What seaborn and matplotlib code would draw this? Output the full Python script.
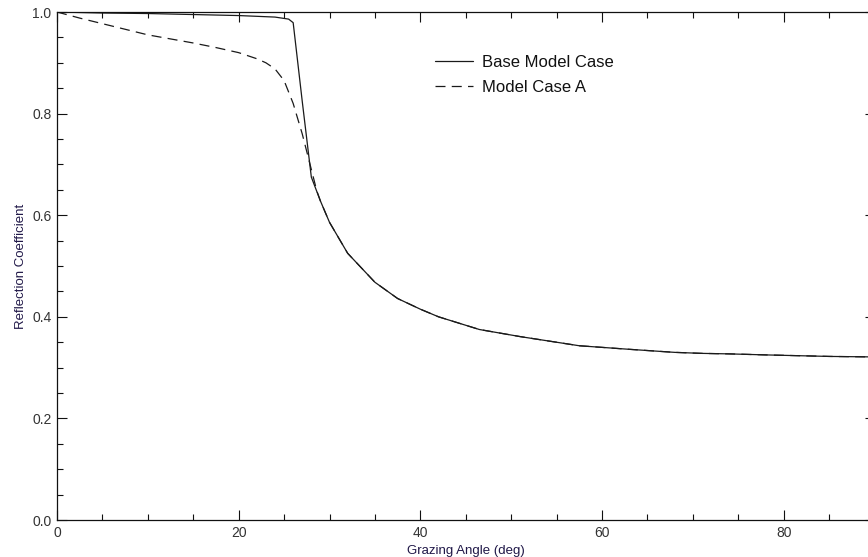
import matplotlib
matplotlib.use("Agg")
import matplotlib.pyplot as plt
import seaborn as sns
import pandas as pd

# Data
angle_base = [0, 5, 10, 15, 20, 24, 25.5, 26, 27, 28, 29, 30, 32, 35, 37.5, 40, 42,
              46.5, 51, 57.5, 63, 68, 71, 74, 78, 85, 90]
refl_base = [1.0, 0.998, 0.997, 0.995, 0.993, 0.99, 0.986, 0.979, 0.824, 0.675, 0.628,
             0.586, 0.525, 0.468, 0.436, 0.415, 0.400, 0.375, 0.361, 0.343, 0.336,
             0.330, 0.328, 0.327, 0.325, 0.322, 0.321]

angle_a = [0, 2.5, 5, 7.5, 10, 12.5, 15, 17.5, 20, 22, 23, 24, 25, 26, 27, 28, 28.6,
           29, 30, 32, 35, 37.5, 40, 42, 46.5, 51, 57.5, 63, 68, 71, 74, 78, 85, 90]
refl_a = [1.0, 0.988, 0.977, 0.966, 0.955, 0.947, 0.939, 0.93, 0.92, 0.908, 0.9, 0.888,
          0.865, 0.82, 0.76, 0.69, 0.648, 0.628, 0.586, 0.525, 0.468, 0.436, 0.415,
          0.400, 0.375, 0.361, 0.343, 0.336, 0.330, 0.328, 0.327, 0.325, 0.322, 0.321]

series_names = ["Base Model Case", "Model Case A"]
x_ticks = [0, 20, 40, 60, 80]
y_ticks = [0.0, 0.2, 0.4, 0.6, 0.8, 1.0]

sns.set_style("ticks")
plt.rcParams["font.family"] = ["Liberation Sans", "DejaVu Sans"]

df_base = pd.DataFrame({"angle": angle_base, "refl": refl_base})
df_a = pd.DataFrame({"angle": angle_a, "refl": refl_a})

fig = plt.figure(figsize=(8.68, 5.57), dpi=100)
W, H = 868, 557
x0, x1 = 57, 874.5
y_top, y_bot = 12, 520
ax = fig.add_axes([x0 / W, (H - y_bot) / H, (x1 - x0) / W, (y_bot - y_top) / H])

line_col = "#1a1a1a"
sns.lineplot(data=df_base, x="angle", y="refl", ax=ax, color=line_col, lw=0.9,
             label=series_names[0], sort=False)
sns.lineplot(data=df_a, x="angle", y="refl", ax=ax, color=line_col, lw=0.9,
             label=series_names[1], sort=False, linestyle=(0, (8.0, 5.0)))

ax.set_xlim(0, 90)
ax.set_ylim(0, 1.0)
ax.set_xticks(x_ticks)
ax.set_xticklabels([str(t) for t in x_ticks])
ax.set_yticks(y_ticks)
ax.set_yticklabels([f"{t:.1f}" for t in y_ticks])
ax.set_xticks([t for t in range(0, 91, 5) if t % 20 != 0], minor=True)
ax.set_yticks([i * 0.05 for i in range(21) if i % 4 != 0], minor=True)

for s in ax.spines.values():
    s.set_linewidth(0.9)
    s.set_color("#111111")

ax.tick_params(which="both", direction="in", top=True, right=True, width=0.8,
               colors="#111111", labelcolor="#333333", labelsize=10)
ax.tick_params(which="major", length=7.2, pad=4)
ax.tick_params(which="minor", length=4.3)

label_col = "#201848"
ax.set_xlabel("Grazing Angle (deg)", fontsize=9.5, color=label_col, labelpad=4)
ax.set_ylabel("Reflection Coefficient", fontsize=9.5, color=label_col, labelpad=4)

leg = ax.legend(loc="upper left", bbox_to_anchor=(435 / W, 1 - 55 / H),
                bbox_transform=fig.transFigure, frameon=False, fontsize=12,
                handlelength=2.28, handletextpad=0.55, borderpad=0,
                borderaxespad=0, labelspacing=0.62)
for t in leg.get_texts():
    t.set_color("#111111")

fig.savefig("out.png", dpi=100)
